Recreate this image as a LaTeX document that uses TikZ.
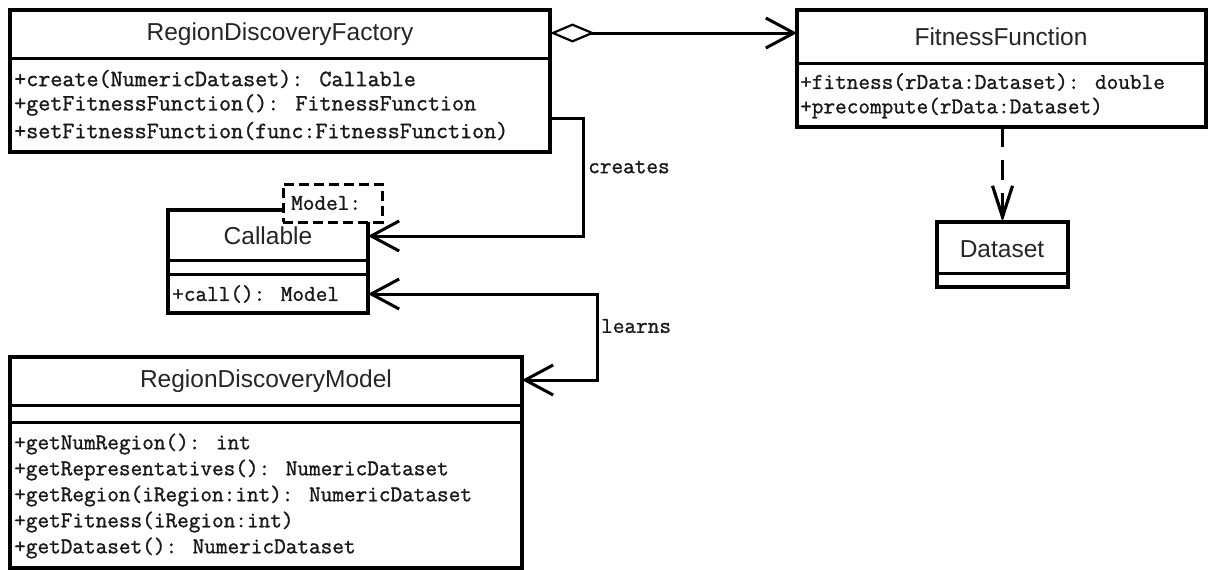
\documentclass[tikz,border=0pt]{standalone}
\usepackage{fontspec}
\setmainfont{Liberation Sans}
\newfontfamily\umlmono{Latin Modern Mono}[FakeBold=1.2]
\usetikzlibrary{arrows.meta,calc}
\tikzset{
  umlbox/.style={draw, line width=3.2pt, fill=white, inner sep=0pt, outer sep=0pt, anchor=north west},
  sepline/.style={line width=3pt},
  umltitle/.style={font=\fontsize{24.5pt}{28pt}\selectfont, text=black!85, inner sep=0pt},
  umlop/.style={font=\umlmono\fontsize{22.6pt}{24pt}\selectfont, anchor=west, inner sep=0pt, text=black!90},
  umlopwide/.style={umlop, font=\umlmono\fontsize{23.4pt}{25pt}\selectfont},
  assoc/.style={line width=3pt, -{Straight Barb[length=28pt,width=30pt]}},
  biassoc/.style={line width=3pt, {Straight Barb[length=28pt,width=30pt]}-{Straight Barb[length=28pt,width=30pt]}},
  aggr/.style={line width=3pt, {Diamond[open,length=45pt,width=19pt,line width=2.2pt]}-{Straight Barb[length=28pt,width=30pt]}},
  depend/.style={line width=3.2pt, dash pattern=on 20pt off 13pt, -{Straight Barb[length=31pt,width=20pt]}},
  tparam/.style={draw, line width=3pt, dash pattern=on 10pt off 5pt, fill=white, inner sep=0pt, outer sep=0pt, anchor=north west}
}
\begin{document}
\begin{tikzpicture}[x=1pt,y=-1pt]
\useasboundingbox (0,0) rectangle (1208,570);
\fill[white] (0,0) rectangle (1208,570);

% RegionDiscoveryFactory
\node[umlbox, minimum width=540pt, minimum height=142pt] (rdf) at (10,10) {};
\draw[sepline] (10,58) -- (550,58);
\node[umltitle] (rdft) at (280,34) {RegionDiscoveryFactory};
\node[umlopwide] (rdf1) at (14,79) {+create(NumericDataset): Callable};
\node[umlopwide] (rdf2) at (14,105) {+getFitnessFunction(): FitnessFunction};
\node[umlopwide] (rdf3) at (14,131) {+setFitnessFunction(func:FitnessFunction)};

% FitnessFunction
\node[umlbox, minimum width=409pt, minimum height=117pt] (ff) at (797,10) {};
\draw[sepline] (797,63) -- (1206,63);
\node[umltitle] (fft) at (1001,37) {FitnessFunction};
\node[umlop] (ff1) at (800,82) {+fitness(rData:Dataset): double};
\node[umlop] (ff2) at (800,108) {+precompute(rData:Dataset)};

% Callable
\node[umlbox, minimum width=200pt, minimum height=103pt] (cal) at (168,210) {};
\draw[sepline] (168,260) -- (368,260);
\draw[sepline] (168,274) -- (368,274);
\node[umltitle] (calt) at (268,236) {Callable};
\node[umlop] (cal1) at (172,294) {+call(): Model};

% template parameter
\node[tparam, minimum width=99pt, minimum height=38pt] (model) at (283,184) {};
\node[umlop] (modelt) at (291,203) {Model:};

% Dataset
\node[umlbox, minimum width=131pt, minimum height=65pt] (ds) at (937,222) {};
\draw[sepline] (937,273) -- (1068,273);
\node[umltitle] (dst) at (1002,249) {Dataset};

% RegionDiscoveryModel
\node[umlbox, minimum width=512pt, minimum height=211pt] (rdm) at (10,357) {};
\draw[sepline] (10,405) -- (522,405);
\draw[sepline] (10,422) -- (522,422);
\node[umltitle] (rdmt) at (266,381) {RegionDiscoveryModel};
\node[umlop] (rdm1) at (14,444) {+getNumRegion(): int};
\node[umlop] (rdm2) at (14,470) {+getRepresentatives(): NumericDataset};
\node[umlop] (rdm3) at (14,496) {+getRegion(iRegion:int): NumericDataset};
\node[umlop] (rdm4) at (14,522) {+getFitness(iRegion:int)};
\node[umlop] (rdm5) at (14,548) {+getDataset(): NumericDataset};

% connectors
\draw[aggr] ($(rdf.north east)+(0,23)$) -- ($(ff.north west)+(0,23)$);

\coordinate (crc) at (583,236);
\draw[assoc] ($(rdf.north east)+(0,108)$) -| (crc) -- ($(cal.north east)+(0,26)$);
\node[umlop] (crl) at (588,167) {creates};

\coordinate (lrc) at (597,380);
\draw[biassoc] ($(cal.north east)+(0,84)$) -| (lrc) -- ($(rdm.north east)+(0,23)$);
\node[umlop] (lrl) at (601,326) {learns};

\draw[depend] (ff.south -| ds.north) -- (ds.north);
\end{tikzpicture}
\end{document}
